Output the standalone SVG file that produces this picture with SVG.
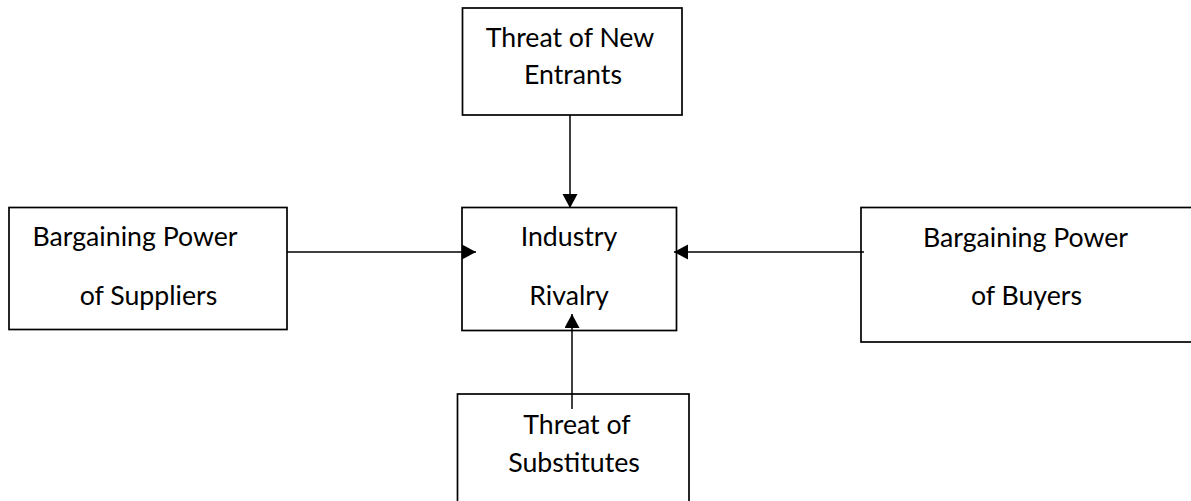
<svg xmlns="http://www.w3.org/2000/svg" width="1191" height="501" viewBox="0 0 1191 501">
  <style>
    .box { fill: #ffffff; stroke: #000000; stroke-width: 1.7; }
    .lbl { font-family: Lato, "Open Sans", "Liberation Sans", sans-serif; font-size: 26.7px; fill: #000000; text-anchor: middle; }
    .conn { stroke: #000000; stroke-width: 1.5; fill: none; }
  </style>
  <defs>
    <marker id="arrow" markerUnits="userSpaceOnUse" markerWidth="15" markerHeight="16" refX="14" refY="7.5" orient="auto">
      <path d="M0,0 L14,7.5 L0,15 Z" fill="#000000"/>
    </marker>
  </defs>
  <rect width="1191" height="501" fill="#ffffff"/>

  <g id="node-new-entrants">
    <rect class="box" x="462.5" y="8" width="219.5" height="107"/>
    <text class="lbl" x="570" y="46.5">Threat of New</text>
    <text class="lbl" x="573" y="83.5">Entrants</text>
  </g>

  <g id="node-suppliers">
    <rect class="box" x="9" y="207.5" width="278" height="122"/>
    <text class="lbl" x="135" y="246">Bargaining Power</text>
    <text class="lbl" x="148.5" y="305">of Suppliers</text>
  </g>

  <g id="node-rivalry">
    <rect class="box" x="462" y="207.5" width="214.5" height="123"/>
    <text class="lbl" x="569" y="245.5">Industry</text>
    <text class="lbl" x="569" y="305">Rivalry</text>
  </g>

  <g id="node-buyers">
    <rect class="box" x="861" y="207.5" width="345" height="134.5"/>
    <text class="lbl" x="1025.5" y="246.5">Bargaining Power</text>
    <text class="lbl" x="1026.5" y="305">of Buyers</text>
  </g>

  <g id="node-substitutes">
    <rect class="box" x="457.5" y="394" width="231.5" height="120"/>
    <text class="lbl" x="577" y="434">Threat of</text>
    <text class="lbl" x="574" y="471.5">Substitutes</text>
  </g>

  <g id="connectors">
    <line class="conn" x1="570" y1="115" x2="570" y2="208" marker-end="url(#arrow)"/>
    <line class="conn" x1="287" y1="252" x2="476" y2="252" marker-end="url(#arrow)"/>
    <line class="conn" x1="864" y1="252" x2="674" y2="252" marker-end="url(#arrow)"/>
    <line class="conn" x1="572" y1="409" x2="572" y2="314" marker-end="url(#arrow)"/>
  </g>
</svg>
